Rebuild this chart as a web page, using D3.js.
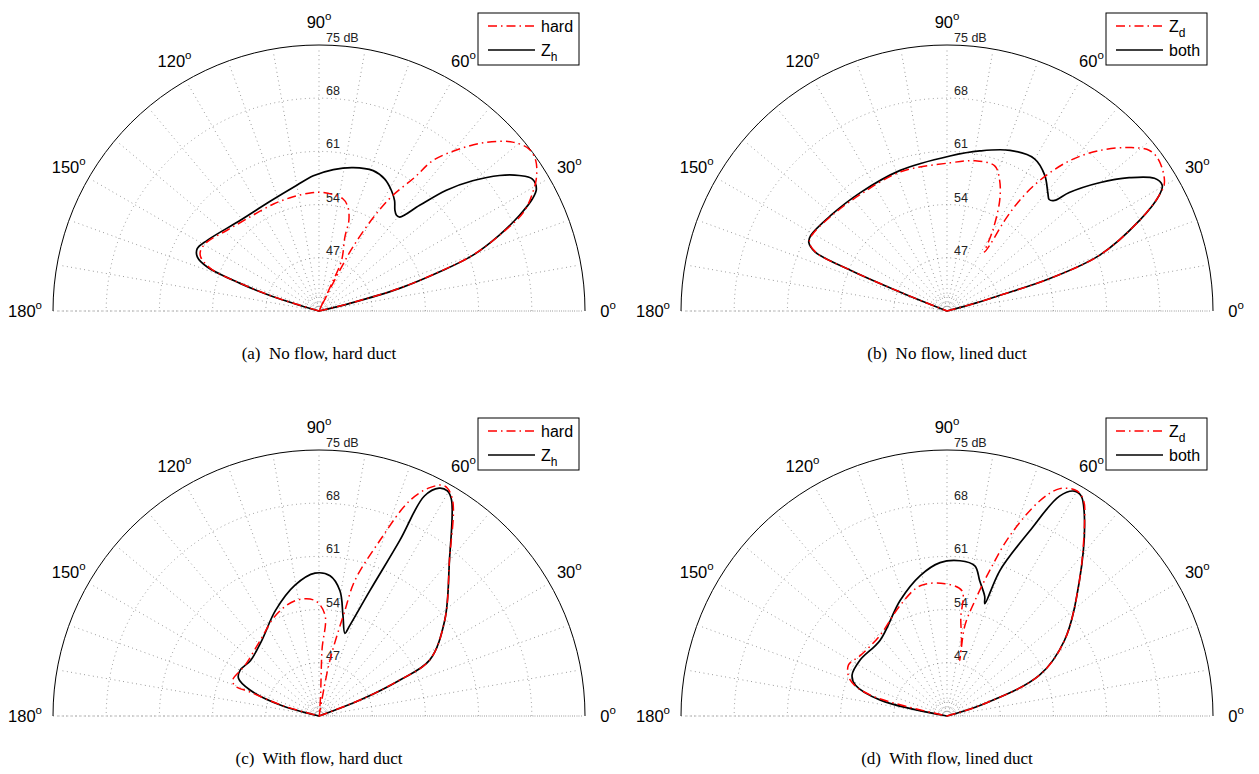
<!DOCTYPE html>
<html>
<head>
<meta charset="utf-8">
<script src="https://cdn.jsdelivr.net/npm/d3@7"></script>
<style>
  body { margin: 0; background: #fff; }
  text { font-family: "Liberation Sans", Arial, sans-serif; }
</style>
</head>
<body>
<svg id="fig" width="1259" height="774"></svg>
<script>
// ---- radial scale and grid ----
const dbMin = 40, dbMax = 75;
const ringLevels = [47, 54, 61, 68];
const innerRings = [41, 42];
const ringLabels = ["47", "54", "61", "68", "75 dB"];
const angleTicks = [0, 30, 60, 90, 120, 150, 180];
const spokeAngles = d3.range(0, 181, 10);

// ---- directivity curves: [angle (deg), level (dB)] in drawing order ----
// (a) no flow, hard duct
const aHard = [[0,40],[12,40],[14,44],[15.7,50.8],[18,56.5],[19.9,61.4],[22.8,65.8],[25.9,70.0],[29.9,72.7],[31.6,73.6],[34.7,74.7],[37.6,74.9],[41.1,73.8],[45.3,71.2],[49.1,68.2],[52.9,64.8],[54.4,61.6],[57.5,58.0],[59.9,54.1],[62.1,49.5],[62.9,46.0],[63.5,42],[64,39],[65,44],[66,47.3],[70.7,50.3],[71.8,52.6],[74.5,54.2],[78,55.1],[88,55.6],[93.5,55.6],[102.7,55.4],[113,55.3],[127.9,55.4],[138.7,56.1],[148.3,57.3],[152.9,57.5],[155.5,57.1],[158.6,55.3],[160.7,50.8],[162.6,46.1],[165,40],[180,40]];
const aZh = [[0,40],[12,40],[13.9,44.2],[15.7,51.0],[18.0,56.7],[19.9,61.5],[22.8,65.7],[25.5,69.2],[27.7,71.7],[29.3,72.8],[31.8,73.0],[34.1,71.8],[36.9,69.7],[40.3,66.5],[43.5,63.1],[46.4,59.2],[49.3,56.3],[51.0,56.2],[53,56.6],[55.6,57.6],[59.0,58.5],[63.6,59.4],[68.9,59.8],[76.6,59.4],[84.2,58.7],[92.4,57.8],[100,56.8],[114,55.8],[130.9,55.8],[147.7,57.4],[152.9,58.0],[156.1,57.5],[158.5,55.8],[160.7,51.0],[162.6,46.3],[165,40],[180,40]];

// (b) no flow, lined duct
const bZd = [[0,40],[14,40],[15.5,44],[16.5,47.3],[17.5,54.1],[20.1,61.4],[25.2,68.0],[28.6,71.8],[30.5,73.2],[35.3,74.2],[38.4,74.0],[41.9,72.2],[46.5,69.1],[50.8,65.5],[54.6,61.1],[56.7,57.4],[57.5,54.1],[57,50.5],[57.5,49.2],[60.4,52.2],[64.5,56.1],[68,58.5],[71.8,60.1],[79.5,60.1],[88.8,59.5],[108.4,59.3],[126.2,59.1],[140.6,59.7],[151,60.4],[153.6,60.2],[155.9,58.9],[157.1,53.7],[158,46.5],[160,40],[180,40]];
const bBoth = [[0,40],[14,40],[15.5,44],[16.5,47.3],[17.5,54.1],[20.1,61.4],[25.2,68.0],[28.6,71.8],[30.3,72.8],[32.6,72.4],[36.2,69.7],[40.1,66.2],[44.1,62.4],[45.8,60.3],[47.5,59.9],[49.4,60.4],[54.2,62.0],[60.1,63.1],[68.6,62.7],[78.4,61.5],[88.9,60.4],[108.4,59.5],[126.2,59.3],[140.6,59.8],[151,60.5],[153.6,60.3],[155.9,59.0],[157.1,53.8],[158,46.6],[160,40],[180,40]];

// (c) with flow, hard duct
const cHard = [[0,40],[15,40],[21.3,45.8],[24,51.6],[26.8,56.3],[37.3,60.8],[50,66.7],[58.4,73.5],[61.4,74.5],[64.1,73.4],[67.2,70.7],[70.9,64.4],[75.2,58.4],[76.2,54.3],[78.9,47.5],[80,42],[82,38],[85,42],[87.4,48.7],[86.6,53.3],[92,55.2],[101.7,55.5],[113.5,54.4],[127.8,52.6],[145.4,51.8],[157.5,52.3],[160.3,51.7],[160.8,49.6],[164,45],[168,40],[180,40]];
const cZh = [[0,40],[15,40],[21.3,45.8],[24,51.6],[26.8,56.3],[37.3,60.8],[50,66.7],[58.4,73.3],[60.3,74.1],[62.2,73.9],[64.4,72.1],[65.3,65.4],[67.9,57.8],[71.2,52.6],[72.6,51.4],[76.6,53.6],[80.5,56.7],[85.5,58.5],[91.6,58.8],[100.4,57.5],[112.5,55.0],[126.9,52.5],[140.9,51.6],[149.8,52.0],[154.9,51.7],[159.4,49.7],[164.2,45.3],[168,40],[180,40]];

// (d) with flow, lined duct
const dZd = [[0,40],[15,40],[18,45],[23.8,53.3],[32.8,58.4],[45.6,64.9],[54.8,71.4],[57.5,73.5],[59.9,74.2],[63.6,73.4],[66.7,70.8],[70.8,65.1],[73.6,60.0],[76.4,55.6],[78.8,52.2],[78,49],[77,47.5],[79,50],[82,53],[83.2,56.6],[90.9,57.4],[101.6,57.5],[113,55.8],[129.6,53.8],[145,53.9],[152.7,54.6],[159.6,53.6],[164.7,50.5],[170,40],[180,40]];
const dBoth = [[0,40],[15,40],[18,45],[23.8,53.3],[32.8,58.4],[45.6,64.9],[54.8,71.4],[58.6,73.9],[60.5,74.0],[62.9,72.5],[65.9,66.7],[70,60.4],[71.4,55.6],[72.5,56.5],[76.4,58.3],[79.5,60.1],[85.2,60.5],[92.6,60.2],[100.8,58.8],[112.1,56.4],[131.4,53.3],[147.2,53.6],[156.7,53.6],[161.4,52.7],[166.6,49.0],[170,40],[180,40]];

// ---- layout ----
const R = 266;
const panels = [
  { cx: 319, cy: 311, caption: "(a)  No flow, hard duct",    red: aHard, black: aZh,   legend: [["hard", ""], ["Z", "h"]] },
  { cx: 947, cy: 311, caption: "(b)  No flow, lined duct",   red: bZd,   black: bBoth, legend: [["Z", "d"], ["both", ""]] },
  { cx: 319, cy: 716, caption: "(c)  With flow, hard duct",  red: cHard, black: cZh,   legend: [["hard", ""], ["Z", "h"]] },
  { cx: 947, cy: 716, caption: "(d)  With flow, lined duct", red: dZd,   black: dBoth, legend: [["Z", "d"], ["both", ""]] }
];

const svg = d3.select("#fig");
svg.append("rect").attr("width", 1259).attr("height", 774).attr("fill", "#fff");

const rScale = d3.scaleLinear().domain([dbMin, dbMax]).range([0, R]).clamp(true);
const toRad = d => d * Math.PI / 180;

// radial line: d3 angle is clockwise from 12 o'clock, chart angle is counter-clockwise from 3 o'clock
const radial = d3.lineRadial()
  .angle(d => Math.PI / 2 - toRad(d[0]))
  .radius(d => rScale(d[1]))
  .curve(d3.curveCatmullRom.alpha(0.5));

const dotted = { stroke: "#666", width: 0.8, dash: "0.8,3.6" };
const redDash = "9,4,1.5,4";

function halfCircle(r) {
  const p = d3.path();
  p.moveTo(r, 0);
  p.arc(0, 0, r, 0, -Math.PI, true);
  return p.toString();
}

panels.forEach(p => {
  const g = svg.append("g").attr("transform", `translate(${p.cx},${p.cy})`);

  // spokes
  g.selectAll("line.spoke").data(spokeAngles).join("line")
    .attr("x1", 0).attr("y1", 0)
    .attr("x2", a => (R - 4) * Math.cos(toRad(a)))
    .attr("y2", a => -(R - 4) * Math.sin(toRad(a)))
    .attr("stroke", dotted.stroke).attr("stroke-width", dotted.width)
    .attr("stroke-dasharray", dotted.dash);

  // baseline diameter
  g.append("line").attr("x1", -R).attr("x2", R).attr("y1", 0).attr("y2", 0)
    .attr("stroke", dotted.stroke).attr("stroke-width", dotted.width)
    .attr("stroke-dasharray", dotted.dash);

  // level rings
  g.selectAll("path.ring").data(ringLevels.concat(innerRings)).join("path")
    .attr("d", v => halfCircle(rScale(v)))
    .attr("fill", "none")
    .attr("stroke", dotted.stroke).attr("stroke-width", dotted.width)
    .attr("stroke-dasharray", dotted.dash);

  // outer boundary
  g.append("path").attr("d", halfCircle(R))
    .attr("fill", "none").attr("stroke", "#000").attr("stroke-width", 1);

  // ring labels
  const labelLevels = ringLevels.concat([dbMax]);
  g.selectAll("text.ringlab").data(labelLevels).join("text")
    .attr("x", 7)
    .attr("y", v => -rScale(v) - 3)
    .attr("font-size", 12.5)
    .attr("fill", "#222")
    .text((v, i) => ringLabels[i]);

  // angle labels
  angleTicks.forEach(a => {
    const lr = a === 180 ? 294 : 289;
    const t = g.append("text")
      .attr("x", lr * Math.cos(toRad(a)))
      .attr("y", -lr * Math.sin(toRad(a)) + 6)
      .attr("text-anchor", "middle")
      .attr("font-size", 16.5)
      .attr("fill", "#000");
    t.append("tspan").text(a);
    t.append("tspan").attr("dy", -8).attr("font-size", 11.5).text("o");
  });

  // curves
  g.append("path").datum(p.black).attr("d", radial)
    .attr("fill", "none").attr("stroke", "#000").attr("stroke-width", 1.7)
    .attr("stroke-linejoin", "round");
  g.append("path").datum(p.red).attr("d", radial)
    .attr("fill", "none").attr("stroke", "#ff0000").attr("stroke-width", 1.5)
    .attr("stroke-dasharray", redDash);

  // legend
  const lg = svg.append("g").attr("transform", `translate(${p.cx + 159},${p.cy - 298})`);
  lg.append("rect").attr("width", 101).attr("height", 52)
    .attr("fill", "#fff").attr("stroke", "#000").attr("stroke-width", 1);
  const rows = [{ y: 13, color: "#ff0000", dash: redDash, w: 1.5 }, { y: 37, color: "#000", dash: null, w: 1.7 }];
  rows.forEach((row, i) => {
    lg.append("line").attr("x1", 10).attr("x2", 57)
      .attr("y1", row.y).attr("y2", row.y)
      .attr("stroke", row.color).attr("stroke-width", row.w)
      .attr("stroke-dasharray", row.dash);
    const t = lg.append("text").attr("x", 63).attr("y", row.y + 5.5).attr("font-size", 16);
    t.append("tspan").text(p.legend[i][0]);
    if (p.legend[i][1]) t.append("tspan").attr("dy", 5).attr("font-size", 12).text(p.legend[i][1]);
  });

  // caption
  svg.append("text").attr("x", p.cx).attr("y", p.cy + 48)
    .attr("text-anchor", "middle")
    .style("font-family", "'Liberation Serif', 'Times New Roman', serif")
    .attr("font-size", 17)
    .attr("xml:space", "preserve")
    .text(p.caption);
});
</script>
</body>
</html>
